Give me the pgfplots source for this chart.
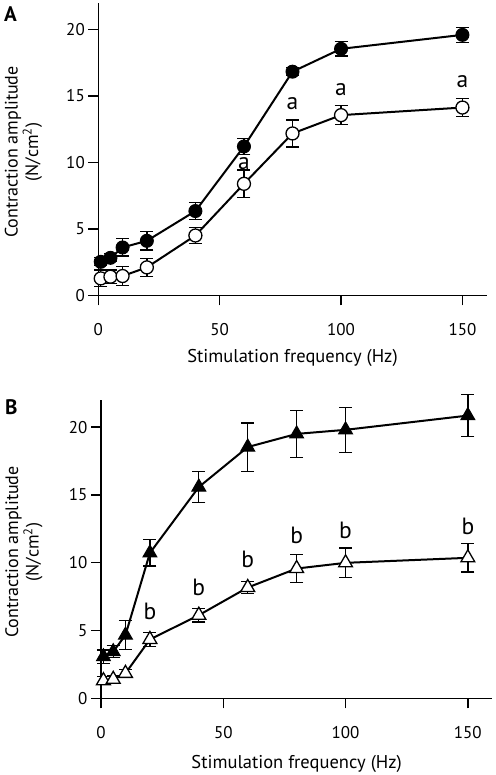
\documentclass[border=0pt]{standalone}
\usepackage{fontspec}
\setmainfont{PT Sans}
\usepackage{pgfplots}
\pgfplotsset{compat=1.18}
\tikzset{lett/.style={font=\fontsize{23.5}{24}\selectfont, anchor=center}}
\pgfplotstableread{
x y e
1 2.52 0.3
5 2.82 0.3
10 3.6 0.65
20 4.1 0.7
40 6.34 0.63
60 11.2 0.6
80 16.83 0.3
100 18.55 0.55
150 19.6 0.55
}\Afilled
\pgfplotstableread{
x y e
1 1.27 0.63
5 1.4 0.5
10 1.45 0.7
20 2.1 0.67
40 4.5 0.62
60 8.39 1.05
80 12.18 1.02
100 13.56 0.7
150 14.13 0.67
}\Aopen
\pgfplotstableread{
x y e
1 3.07 0.5
5 3.44 0.45
10 4.66 1.07
20 10.72 0.97
40 15.58 1.14
60 18.53 1.78
80 19.5 1.74
100 19.8 1.66
150 20.85 1.53
}\Bfilled
\pgfplotstableread{
x y e
1 1.3 0.3
5 1.4 0.3
10 1.84 0.3
20 4.34 0.5
40 6.13 0.5
60 8.17 0.45
80 9.57 1.05
100 9.99 1.1
150 10.36 1.05
}\Bopen
\begin{document}
\begin{tikzpicture}
\useasboundingbox (0pt,0pt) rectangle (495pt,775pt);
\pgfplotsset{
  common/.style={
    scale only axis, xmin=0, xmax=160, ymin=0, ymax=22,
    axis lines=left, axis line style={-, line width=1.3pt},
    xtick={0,50,100,150}, ytick={0,5,10,15,20},
    tick align=outside, major tick length=10pt,
    tick style={line width=1.3pt, black},
    /pgf/number format/assume math mode=true,
    ticklabel style={font=\fontsize{17}{18}\selectfont},
    xticklabel style={yshift=-15pt},
    xlabel={Stimulation frequency (Hz)},
    ylabel={Contraction amplitude\\(N/cm\textsuperscript{2})},
    xlabel style={font=\fontsize{18.5}{21}\selectfont},
    ylabel style={align=center, font=\fontsize{18}{20.5}\selectfont},
    clip=false,
  },
  errs/.style={draw=none, mark=none, forget plot,
    error bars/y dir=both, error bars/y explicit,
    error bars/error bar style={draw=black, solid, line width=1.3pt},
    error bars/error mark options={draw=black, rotate=90, line width=1.3pt, mark size=6.5pt}},
  ser/.style={line width=2pt, black},
}
\begin{axis}[common, at={(98.3pt,479.7pt)}, anchor=south west,
  width=388.4pt, height=292.3pt,
  xlabel style={at={(axis description cs:0.5,0)}, anchor=base, yshift=-67pt},
  ylabel style={at={(axis description cs:-0.193,0.49)}, anchor=center}]
\addplot[errs] table[x=x, y=y, y error=e] {\Afilled};
\addplot[errs] table[x=x, y=y, y error=e] {\Aopen};
\addplot[ser, mark=*, mark options={mark size=6.5pt, fill=black, line width=1pt}] table[x=x, y=y] {\Afilled};
\addplot[ser, mark=*, mark options={mark size=6.5pt, fill=white, line width=1.3pt}] table[x=x, y=y] {\Aopen};
\node[lett] at (axis cs:60,9.9) {a};
\node[lett] at (axis cs:80,14.46) {a};
\node[lett] at (axis cs:100,15.45) {a};
\node[lett] at (axis cs:150,16.08) {a};
\end{axis}
\begin{axis}[common, at={(101pt,76.7pt)}, anchor=south west,
  width=391.3pt, height=298.3pt,
  xlabel style={at={(axis description cs:0.5,0)}, anchor=base, yshift=-70pt},
  ylabel style={at={(axis description cs:-0.197,0.49)}, anchor=center}]
\addplot[errs] table[x=x, y=y, y error=e] {\Bfilled};
\addplot[errs] table[x=x, y=y, y error=e] {\Bopen};
\addplot[ser, mark=triangle*, mark options={mark size=8pt, fill=black, line width=1pt}] table[x=x, y=y] {\Bfilled};
\addplot[ser, mark=triangle*, mark options={mark size=8pt, fill=white, line width=1.3pt}] table[x=x, y=y] {\Bopen};
\node[lett] at (axis cs:20,6.38) {b};
\node[lett] at (axis cs:40,8.2) {b};
\node[lett] at (axis cs:60,10.26) {b};
\node[lett] at (axis cs:80,11.98) {b};
\node[lett] at (axis cs:100,12.4) {b};
\node[lett] at (axis cs:150,12.7) {b};
\end{axis}
\node[anchor=north west, inner sep=0pt, font=\fontsize{21}{22}\selectfont\bfseries] at (4pt,768pt) {A};
\node[anchor=north west, inner sep=0pt, font=\fontsize{21}{22}\selectfont\bfseries] at (5pt,376pt) {B};
\end{tikzpicture}
\end{document}
